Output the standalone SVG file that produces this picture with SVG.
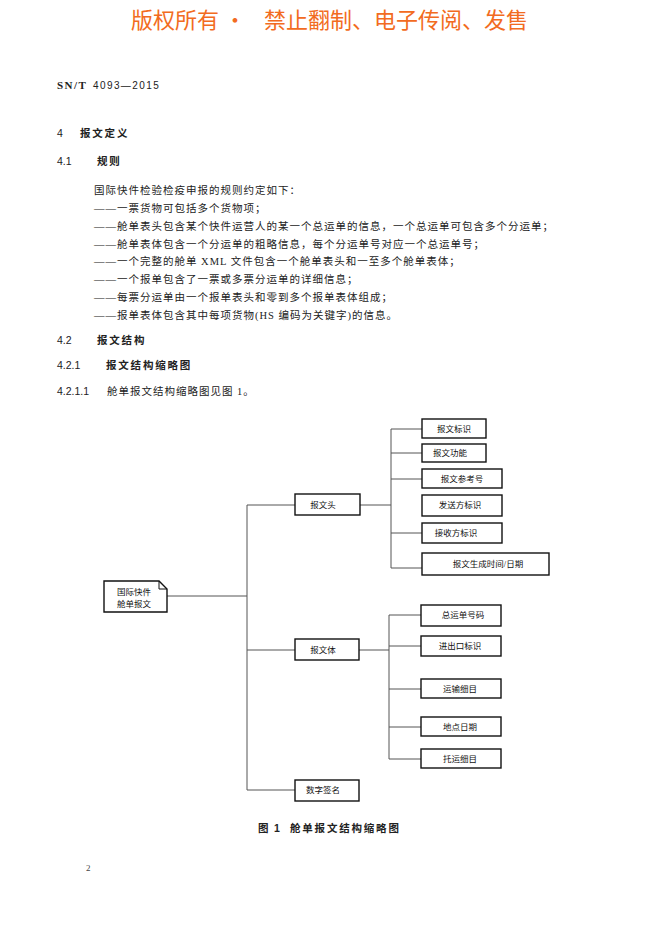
<svg xmlns="http://www.w3.org/2000/svg" width="662" height="936" viewBox="0 0 662 936">
<style>
.wm{font-family:"Noto Sans CJK SC","Liberation Sans",sans-serif;font-size:22px;fill:#F26B21}
.hd{font-family:"Liberation Sans","Noto Sans CJK SC",sans-serif;font-size:10.5px;font-weight:bold;fill:#222;letter-spacing:1.8px}
.num{font-family:"Liberation Sans",sans-serif;font-size:10.5px;fill:#222}
.bd{font-family:"Liberation Serif","Noto Sans CJK SC",serif;font-size:10.5px;fill:#222;letter-spacing:1px}
.nt{font-family:"Liberation Serif","Noto Sans CJK SC",serif;font-size:8.5px;fill:#111;text-anchor:middle;dominant-baseline:central}
.box{fill:#fff;stroke:#111;stroke-width:1.4}
.ln{fill:none;stroke:#555;stroke-width:1}
</style>
<rect width="662" height="936" fill="#fff"/>
<text class="wm" x="131" y="28">版权所有 ·</text>
<text class="wm" x="264" y="28">禁止翻制、电子传阅、发售</text>
<text x="57" y="89" style="font-family:'Liberation Serif',serif;font-size:11px;font-weight:bold;fill:#222;letter-spacing:1.5px">SN/T</text>
<text x="93" y="89" style="font-family:'Liberation Sans',sans-serif;font-size:10px;fill:#222;letter-spacing:1.4px">4093—2015</text>
<text class="num" x="57" y="137">4</text>
<text class="hd" x="80" y="137">报文定义</text>
<text class="num" x="57" y="165">4.1</text>
<text class="hd" x="97" y="165">规则</text>
<text class="bd" x="94" y="194">国际快件检验检疫申报的规则约定如下：</text>
<text class="bd" x="94" y="212">——一票货物可包括多个货物项；</text>
<text class="bd" x="94" y="230">——舱单表头包含某个快件运营人的某一个总运单的信息，一个总运单可包含多个分运单；</text>
<text class="bd" x="94" y="248">——舱单表体包含一个分运单的粗略信息，每个分运单号对应一个总运单号；</text>
<text class="bd" x="94" y="265">——一个完整的舱单 XML 文件包含一个舱单表头和一至多个舱单表体；</text>
<text class="bd" x="94" y="283">——一个报单包含了一票或多票分运单的详细信息；</text>
<text class="bd" x="94" y="301">——每票分运单由一个报单表头和零到多个报单表体组成；</text>
<text class="bd" x="94" y="319">——报单表体包含其中每项货物(HS 编码为关键字)的信息。</text>
<text class="num" x="57" y="344">4.2</text>
<text class="hd" x="97" y="344">报文结构</text>
<text class="num" x="57" y="369">4.2.1</text>
<text class="hd" x="106" y="369">报文结构缩略图</text>
<text class="num" x="57" y="395">4.2.1.1</text>
<text class="bd" x="107" y="395">舱单报文结构缩略图见图 1。</text>
<g id="connectors">
<polyline class="ln" points="167,596 247,596"/>
<polyline class="ln" points="247,505 247,790"/>
<polyline class="ln" points="247,505 295,505"/>
<polyline class="ln" points="247,650 295,650"/>
<polyline class="ln" points="247,790 295,790"/>
<polyline class="ln" points="360,505 391,505"/>
<polyline class="ln" points="391,429 391,568"/>
<polyline class="ln" points="391,429 422,429"/>
<polyline class="ln" points="391,453 422,453"/>
<polyline class="ln" points="391,479 422,479"/>
<polyline class="ln" points="391,533 422,533"/>
<polyline class="ln" points="391,568 422,568"/>
<polyline class="ln" points="359,650 389,650"/>
<polyline class="ln" points="389,615 389,759"/>
<polyline class="ln" points="389,615 421,615"/>
<polyline class="ln" points="389,646 421,646"/>
<polyline class="ln" points="389,689 421,689"/>
<polyline class="ln" points="389,727 421,727"/>
<polyline class="ln" points="389,759 421,759"/>
</g>
<g id="root">
<path class="box" d="M104,581 H159 L167,589 V612 H104 Z"/>
<path d="M159,581 V589 H167" fill="none" stroke="#111" stroke-width="1"/>
<text class="nt" x="134" y="592">国际快件</text>
<text class="nt" x="134" y="604">舱单报文</text>
</g>
<g id="head"><rect class="box" x="295" y="494" width="65" height="21"/><text class="nt" x="323" y="505">报文头</text></g>
<g id="body"><rect class="box" x="295" y="639" width="64" height="21"/><text class="nt" x="323" y="650">报文体</text></g>
<g id="sign"><rect class="box" x="295" y="780" width="64" height="21"/><text class="nt" x="323" y="790">数字签名</text></g>
<g id="h1"><rect class="box" x="422" y="419" width="64" height="19"/><text class="nt" x="454" y="429">报文标识</text></g>
<g id="h2"><rect class="box" x="422" y="444" width="64" height="18"/><text class="nt" x="450" y="453">报文功能</text></g>
<g id="h3"><rect class="box" x="422" y="469" width="80" height="19"/><text class="nt" x="462" y="479">报文参考号</text></g>
<g id="h4"><rect class="box" x="422" y="495" width="80" height="21"/><text class="nt" x="460" y="505">发送方标识</text></g>
<g id="h5"><rect class="box" x="422" y="523" width="80" height="20"/><text class="nt" x="456" y="533">接收方标识</text></g>
<g id="h6"><rect class="box" x="422" y="553" width="127" height="22"/><text class="nt" x="488" y="564">报文生成时间/日期</text></g>
<g id="b1"><rect class="box" x="421" y="605" width="80" height="21"/><text class="nt" x="463" y="615">总运单号码</text></g>
<g id="b2"><rect class="box" x="421" y="636" width="80" height="20"/><text class="nt" x="460" y="646">进出口标识</text></g>
<g id="b3"><rect class="box" x="421" y="679" width="80" height="19"/><text class="nt" x="460" y="689">运输细目</text></g>
<g id="b4"><rect class="box" x="421" y="717" width="80" height="19"/><text class="nt" x="460" y="727">地点日期</text></g>
<g id="b5"><rect class="box" x="421" y="749" width="80" height="19"/><text class="nt" x="460" y="759">托运细目</text></g>
<text class="hd" x="258" y="832">图</text>
<text class="hd" x="274" y="832">1</text>
<text class="hd" x="290" y="832">舱单报文结构缩略图</text>
<text x="86" y="871" style="font-family:'Liberation Serif',serif;font-size:9px;fill:#444">2</text>
</svg>
